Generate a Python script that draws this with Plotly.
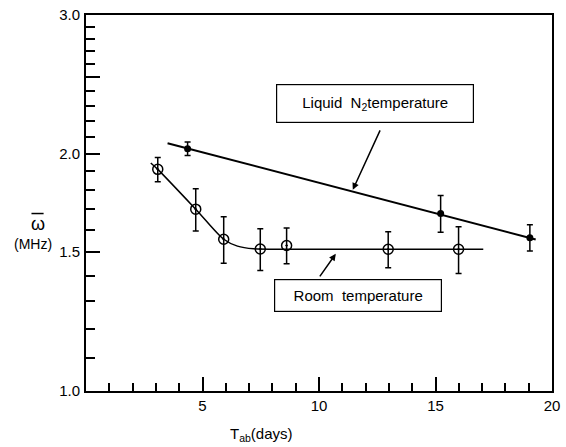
import math
import plotly.graph_objects as go

# Liquid nitrogen temperature measurements (filled markers)
n2_days = [4.36, 15.22, 19.05]
n2_omega = [2.03, 1.68, 1.565]
n2_err = [0.04, 0.09, 0.06]

# Straight-line fit through the liquid N2 points
n2_fit_days = [3.5, 19.3]
n2_fit_omega = [2.063, 1.557]

# Room temperature measurements (open markers)
rt_days = [3.08, 4.71, 5.91, 7.48, 8.61, 12.97, 15.99]
rt_omega = [1.911, 1.701, 1.558, 1.514, 1.530, 1.513, 1.513]
rt_err = [0.068, 0.105, 0.106, 0.092, 0.08, 0.079, 0.103]

# Guide curve through the room temperature points
rt_curve_days = [2.78, 3.08, 4.71, 5.91, 6.5, 7.2, 9.0, 17.05]
rt_curve_omega = [1.947, 1.911, 1.701, 1.558, 1.527, 1.515, 1.513, 1.513]

# Axis ticks
x_major = [5, 10, 15, 20]
x_minor = [1, 2, 3, 4, 6, 7, 8, 9, 11, 12, 13, 14, 16, 17, 18, 19]
y_major = [1.0, 1.5, 2.0, 2.5, 3.0]
y_major_text = ["1.0", "1.5", "2.0", "", "3.0"]
y_minor = [1.1, 1.2, 1.3, 1.4, 1.6, 1.7, 1.8, 1.9,
           2.1, 2.2, 2.3, 2.4, 2.6, 2.7, 2.8, 2.9]

FONT = "Liberation Sans, Arial, sans-serif"

fig = go.Figure()

fig.add_trace(go.Scatter(
    x=n2_fit_days, y=n2_fit_omega, mode="lines",
    line=dict(color="black", width=2), hoverinfo="skip", showlegend=False))

fig.add_trace(go.Scatter(
    x=rt_curve_days, y=rt_curve_omega, mode="lines",
    line=dict(color="black", width=1.5, shape="spline", smoothing=0.8),
    hoverinfo="skip", showlegend=False))

fig.add_trace(go.Scatter(
    x=n2_days, y=n2_omega, mode="markers",
    marker=dict(symbol="circle", size=7, color="black"),
    error_y=dict(type="data", array=n2_err, color="black", thickness=1.5, width=3),
    showlegend=False))

fig.add_trace(go.Scatter(
    x=rt_days, y=rt_omega, mode="markers",
    marker=dict(symbol="circle-open-dot", size=10, color="black",
                line=dict(width=1.5, color="black")),
    error_y=dict(type="data", array=rt_err, color="black", thickness=1.5, width=3),
    showlegend=False))

fig.update_xaxes(
    range=[0, 20], showgrid=False, zeroline=False,
    showline=True, linecolor="black", linewidth=2, mirror=True,
    tickmode="array", tickvals=x_major, ticktext=[str(v) for v in x_major],
    ticks="inside", ticklen=14, tickwidth=1.5, tickcolor="black",
    minor=dict(tickmode="array", tickvals=x_minor, ticks="inside",
               ticklen=8, tickwidth=1.5, tickcolor="black", showgrid=False),
    tickfont=dict(family=FONT, size=15, color="black"),
    ticklabeloverflow="allow",
)

fig.update_yaxes(
    type="log", range=[0, math.log10(3.0)], showgrid=False, zeroline=False,
    showline=True, linecolor="black", linewidth=2, mirror=True,
    tickmode="array", tickvals=y_major, ticktext=y_major_text,
    ticks="inside", ticklen=14, tickwidth=1.5, tickcolor="black",
    minor=dict(tickmode="array", tickvals=y_minor, ticks="inside",
               ticklen=9, tickwidth=1.5, tickcolor="black", showgrid=False),
    tickfont=dict(family=FONT, size=15, color="black"),
    ticklabeloverflow="allow", ticklabelstandoff=1,
)

annotations = [
    # labelled boxes
    dict(xref="paper", yref="paper", x=0.62, y=0.764,
         xanchor="center", yanchor="middle",
         text="Liquid  N<sub>2</sub>temperature", showarrow=False,
         font=dict(family=FONT, size=15, color="black"),
         bordercolor="black", borderwidth=1.2, bgcolor="white",
         width=190, height=31, borderpad=3),
    dict(xref="paper", yref="paper", x=0.583, y=0.253,
         xanchor="center", yanchor="middle",
         text="Room  temperature", showarrow=False,
         font=dict(family=FONT, size=15, color="black"),
         bordercolor="black", borderwidth=1.2, bgcolor="white",
         width=160, height=25, borderpad=3),
    # pointer arrows (log axis: y given as log10 of the value)
    dict(x=11.45, y=math.log10(1.80), text="", showarrow=True, arrowhead=2,
         arrowsize=0.9, arrowwidth=1.5, arrowcolor="black",
         ax=28, ay=-61, standoff=0),
    dict(x=10.72, y=math.log10(1.493), text="", showarrow=True, arrowhead=2,
         arrowsize=0.9, arrowwidth=1.5, arrowcolor="black",
         ax=-17, ay=24, standoff=0),
    # axis titles
    dict(xref="paper", yref="paper", x=-0.104, y=0.443,
         xanchor="center", yanchor="middle",
         text="ω", showarrow=False,
         font=dict(family=FONT, size=18, color="black")),
    dict(xref="paper", yref="paper", x=-0.113, y=0.392,
         xanchor="center", yanchor="middle",
         text="(MHz)", showarrow=False,
         font=dict(family=FONT, size=14, color="black")),
    dict(xref="paper", yref="paper", x=0.376, y=-0.117,
         xanchor="center", yanchor="middle",
         text="T<sub>ab</sub>(days)", showarrow=False,
         font=dict(family=FONT, size=15, color="black")),
]

# overline bar of the omega symbol
shapes = [
    dict(type="line", xref="paper", yref="paper",
         x0=-0.117, x1=-0.091, y0=0.472, y1=0.472,
         line=dict(color="black", width=1.5)),
]

fig.update_layout(
    width=566, height=447,
    margin=dict(l=86, r=6, t=14, b=56),
    paper_bgcolor="white", plot_bgcolor="white",
    annotations=annotations, shapes=shapes,
)

fig.write_html("out.html")
